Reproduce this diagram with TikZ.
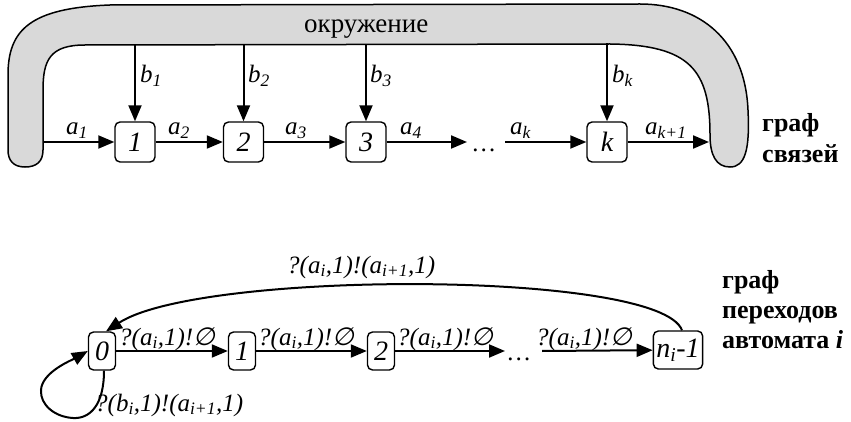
\documentclass[tikz,border=0pt]{standalone}
\usepackage{fontspec}
\setmainfont{Liberation Serif}
\newfontfamily\symf[FakeSlant=0.2]{DejaVu Sans}
\usetikzlibrary{arrows.meta}
\definecolor{envgray}{RGB}{217,217,217}
\newcommand\ix[2]{#1\textsubscript{#2}}
\newcommand\emp{{\symf ∅}}
\begin{document}
\begin{tikzpicture}[x=1pt,y=-1pt,
  st/.style={draw, line width=1.4pt, rounded corners=5pt, inner sep=0pt, font=\fontsize{28}{30}\selectfont\itshape},
  tst/.style={st, minimum width=40pt, minimum height=40pt},
  bst/.style={st, minimum width=27pt, minimum height=38pt, inner xsep=3pt},
  arr/.style={line width=2pt, -{Triangle[length=16pt,width=13pt]}},
  lab/.style={inner sep=0pt, anchor=base west, font=\fontsize{25}{28}\selectfont\itshape},
  ttl/.style={inner sep=0pt, anchor=base west, font=\fontsize{26}{30}\selectfont\bfseries}]
\useasboundingbox (0,0) rectangle (851,422);

% environment
\draw[line width=1.5pt, fill=envgray] (8,150) -- (8,75) .. controls (8,30) and (30,8) .. (110,5) -- (640,4)
  .. controls (700,4) and (745,40) .. (748,110) .. controls (750,150) and (745,167) .. (730,167)
  .. controls (716,167) and (710,155) .. (710,135) .. controls (710,70) and (690,45) .. (610,44)
  -- (85,45) .. controls (50,45) and (43,60) .. (43,90) -- (43,150)
  .. controls (43,162) and (36,167) .. (25,167) .. controls (13,167) and (8,160) .. (8,150) -- cycle;
\node[inner sep=0pt, anchor=base west, font=\fontsize{27}{30}\selectfont] (env) at (304,33) {окружение};

% top graph
\node[tst] (t1) at (135,142) {1};
\node[tst] (t2) at (243.5,142) {2};
\node[tst] (t3) at (366,142) {3};
\node[tst] (tk) at (607,142) {k};
\coordinate (ain) at (43,142);
\coordinate (d1) at (467,142);
\coordinate (d2) at (505,142);
\coordinate (aout) at (709,142);
\coordinate (b1) at (135,45);
\coordinate (b2) at (243.5,45);
\coordinate (b3) at (366,44.5);
\coordinate (bk) at (607,43.5);
\draw[arr] (ain) -- (t1);
\draw[arr] (t1) -- (t2);
\draw[arr] (t2) -- (t3);
\draw[arr] (t3) -- (d1);
\draw[arr] (d2) -- (tk);
\draw[arr] (tk) -- (aout);
\draw[arr] (b1) -- (t1);
\draw[arr] (b2) -- (t2);
\draw[arr] (b3) -- (t3);
\draw[arr] (bk) -- (tk);
\node[lab] (la1) at (66,135) {\ix{a}{1}};
\node[lab] (la2) at (168,135) {\ix{a}{2}};
\node[lab] (la3) at (285,135) {\ix{a}{3}};
\node[lab] (la4) at (400,135) {\ix{a}{4}};
\node[lab] (lak) at (510,135) {\ix{a}{k}};
\node[lab] (lak1) at (645,135) {\ix{a}{k+1}};
\node[lab] (lb1) at (140,83) {\ix{b}{1}};
\node[lab] (lb2) at (248,83) {\ix{b}{2}};
\node[lab] (lb3) at (370,83) {\ix{b}{3}};
\node[lab] (lbk) at (612,83) {\ix{b}{k}};
\node[lab] (dots1) at (473,152) {…};
\node[ttl] (g1) at (762,132) {граф};
\node[ttl] (g2) at (762,163) {связей};

% bottom graph
\node[bst] (s0) at (102,351) {0};
\node[bst] (s1) at (242,351) {1};
\node[bst] (s2) at (381,351) {2};
\node[bst] (sn) at (678,350) {\ix{n}{i}-1};
\coordinate (e1) at (505,351);
\coordinate (e2) at (542,351);
\draw[arr] (s0) -- (s1);
\draw[arr] (s1) -- (s2);
\draw[arr] (s2) -- (e1);
\draw[arr] (e2) -- (sn);
\node[lab] (dots2) at (508,360) {…};
\draw[arr] ([xshift=4pt]sn.north) .. controls (660,270) and (200,270) .. ([xshift=4pt]s0.north);
\draw[arr] ([xshift=2pt]s0.south) .. controls (104,405) and (90,419) .. (73,418)
  .. controls (55,417) and (40,405) .. (41,390) .. controls (42,372) and (72,360) .. (s0.west);
\node[lab] (l01) at (119,345) {?(\ix{a}{i},1)!\emp};
\node[lab] (l12) at (258,345) {?(\ix{a}{i},1)!\emp};
\node[lab] (l23) at (397,345) {?(\ix{a}{i},1)!\emp};
\node[lab] (l3n) at (536,345) {?(\ix{a}{i},1)!\emp};
\node[lab] (lback) at (287,273) {?(\ix{a}{i},1)!(\ix{a}{i+1},1)};
\node[lab] (lloop) at (95,411) {?(\ix{b}{i},1)!(\ix{a}{i+1},1)};
\node[ttl] (h1) at (722,288) {граф};
\node[ttl] (h2) at (722,318) {переходов};
\node[ttl] (h3) at (722,348) {автомата \textit{i}};
\end{tikzpicture}
\end{document}
